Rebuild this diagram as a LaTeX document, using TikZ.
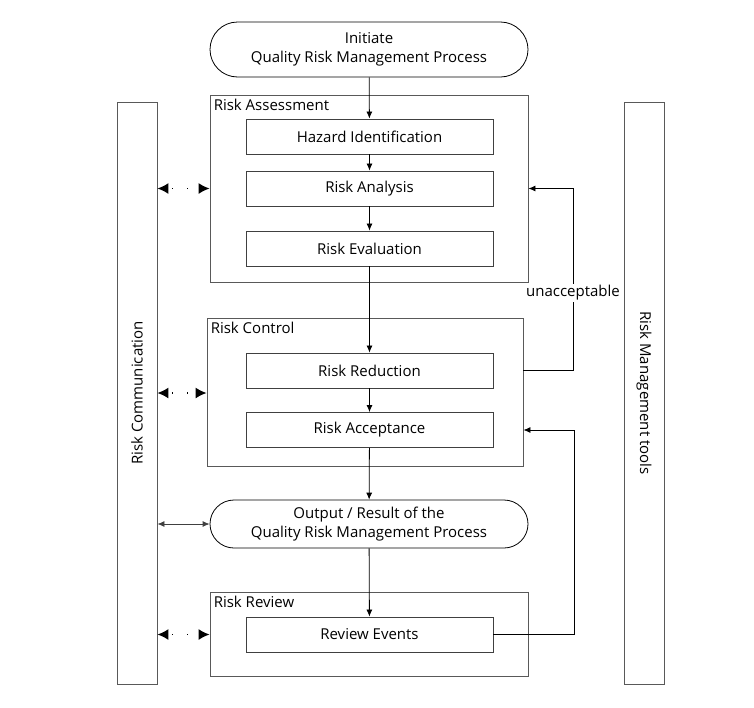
\documentclass[tikz,border=0pt]{standalone}
\usepackage{fontspec}
\setmainfont{Open Sans}
\usetikzlibrary{arrows.meta}
\begin{document}
\begin{tikzpicture}[x=1pt,y=-1pt,
  every node/.style={font=\fontsize{15}{19}\selectfont, inner sep=0pt, align=center},
  container/.style={draw=black!65, line width=0.9pt, rectangle},
  stepbox/.style={draw=black!75, line width=0.9pt, rectangle, minimum width=247pt, minimum height=35pt},
  terminal/.style={draw=black, line width=0.8pt, minimum width=318pt},
  bar/.style={draw=black!65, line width=0.9pt, minimum width=40pt, minimum height=582pt},
  flow/.style={draw=black, line width=0.8pt, -{Latex[length=7pt,width=6pt]}},
  both/.style={draw=black!75, line width=0.8pt, {Latex[length=7pt,width=6pt]}-{Latex[length=7pt,width=6pt]}},
  dotarrow/.style={draw=black, line width=1.3pt, dash pattern=on 1.3pt off 14pt, dash phase=-4pt, {Latex[length=11pt,width=11pt]}-{Latex[length=11pt,width=11pt]}},
  clabel/.style={anchor=base west}
]
\useasboundingbox (0,0) rectangle (754,707);
% side bars
\node[bar] (comm) at (137,393) {};
\node[rotate=90] at (comm.center) {Risk Communication};
\node[bar] (tools) at (644,393) {};
\node[rotate=-90] at (tools.center) {Risk Management tools};
% initiate
\node[terminal, minimum height=55pt, rounded corners=27.5pt] (init) at (369,49.5) {Initiate\\Quality Risk Management Process};
% risk assessment
\node[container, minimum width=318pt, minimum height=187pt] (ra) at (369,188.5) {};
\node[clabel] at ([xshift=4pt,yshift=-16pt]ra.north west) {Risk Assessment};
\node[stepbox] (haz) at (369.5,136.5) {Hazard Identification};
\node[stepbox] (ana) at (369.5,188.5) {Risk Analysis};
\node[stepbox] (eva) at (369.5,248.5) {Risk Evaluation};
% risk control
\node[container, minimum width=316pt, minimum height=148pt] (rc) at (365,392) {};
\node[clabel] at ([xshift=4pt,yshift=-16pt]rc.north west) {Risk Control};
\node[stepbox] (red) at (369.5,370.5) {Risk Reduction};
\node[stepbox] (acc) at (369.5,430) {Risk Acceptance};
% output
\node[terminal, minimum height=48pt, rounded corners=24pt] (out) at (369,524) {Output / Result of the\\Quality Risk Management Process};
% risk review
\node[container, minimum width=318pt, minimum height=84pt] (rr) at (369,634) {};
\node[clabel] at ([xshift=4pt,yshift=-16pt]rr.north west) {Risk Review};
\node[stepbox] (rev) at (369.5,634.5) {Review Events};
% main flow
\draw[flow] (init) -- (haz);
\draw[flow] (haz) -- (ana);
\draw[flow] (ana) -- (eva);
\draw[flow] (eva) -- (red);
\draw[flow] (red) -- (acc);
\draw[flow] (acc) -- (out);
\draw[flow] (out) -- (rev);
% loops
\coordinate (l1s) at (rc.east |- red.center);
\coordinate (l1e) at (ra.east |- ana.center);
\draw[flow] (l1s) -- ++(50,0) coordinate (l1a) |- (l1e);
\node[fill=white, inner sep=1.5pt] (unacc) at (573,293) {unacceptable};
\coordinate (l2e) at (rc.east |- acc.center);
\draw[flow] (rev.east) -- (574,634.5) |- (l2e);
% communication arrows
\draw[dotarrow] (comm.east |- ana.center) -- (ra.west |- ana.center);
\draw[dotarrow] (comm.east |- 0,393) -- (rc.west |- 0,393);
\draw[both] (comm.east |- out.center) -- (out.west);
\draw[dotarrow] (comm.east |- rev.center) -- (rr.west |- rev.center);
\end{tikzpicture}
\end{document}
